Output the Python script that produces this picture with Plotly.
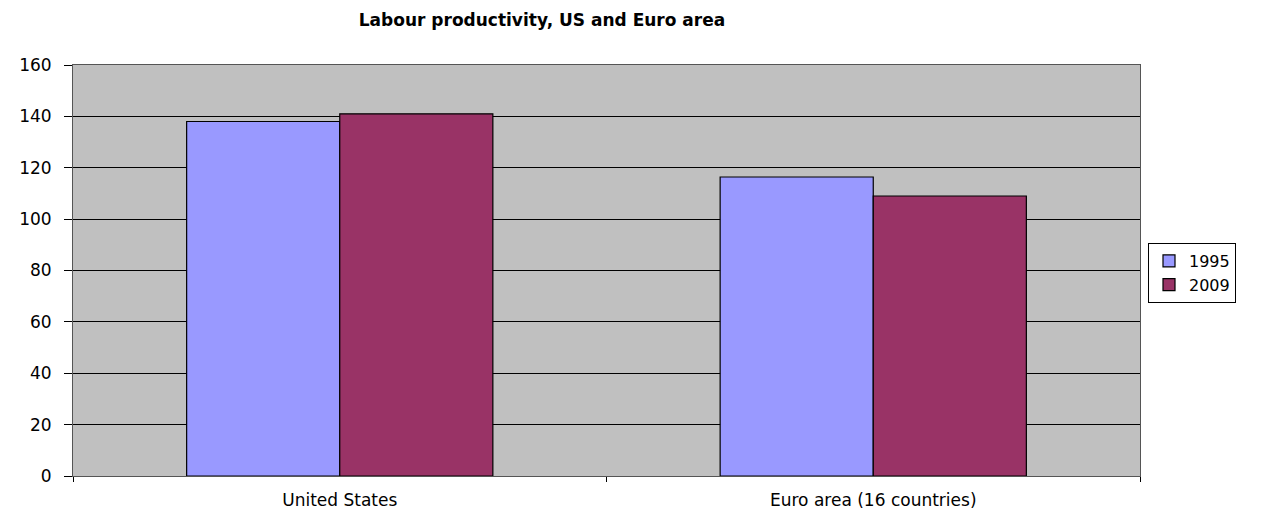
import plotly.graph_objects as go

categories = ["United States", "Euro area (16 countries)"]
series_names = ["1995", "2009"]
values_1995 = [138.0, 116.4]
values_2009 = [141.0, 109.0]
y_ticks = [0, 20, 40, 60, 80, 100, 120, 140, 160]

fig = go.Figure()
fig.add_trace(go.Bar(x=categories, y=values_1995, name=series_names[0],
                     marker=dict(color="#9999FF", line=dict(color="black", width=1.2))))
fig.add_trace(go.Bar(x=categories, y=values_2009, name=series_names[1],
                     marker=dict(color="#993366", line=dict(color="black", width=1.2))))

OFF = 8  # page body margin
W, H = 1264 - OFF, 510 - OFF
l, r, t, b = 73 - OFF, 124, 65 - OFF, 34
pw, ph = W - l - r, H - t - b
FONT = "DejaVu Sans, Verdana, Arial"
fig.update_layout(
    width=W, height=H,
    margin=dict(l=l, r=r, t=t, b=b, autoexpand=False),
    paper_bgcolor="white", plot_bgcolor="#C0C0C0",
    barmode="group", bargap=0.426, bargroupgap=0,
    font=dict(family=FONT, size=17, color="black"),
    title=dict(text="<b>Labour productivity, US and Euro area</b>",
               x=(542 - OFF) / W, xanchor="center", y=1 - (20 - OFF) / H, yanchor="middle",
               font=dict(size=17, family=FONT, color="black")),
    legend=dict(x=(1148 - OFF - l) / pw, y=(476 - 273) / ph, yanchor="middle", xanchor="left",
                bordercolor="black", borderwidth=1, bgcolor="white",
                font=dict(size=16), tracegroupgap=0, itemwidth=30),
    showlegend=True,
)
fig.update_yaxes(range=[0, 160], tickvals=y_ticks, showgrid=True, gridcolor="black",
                 gridwidth=1, ticks="outside", ticklen=8, tickcolor="black",
                 ticklabelstandoff=9,
                 showline=True, linecolor="#555555", mirror=True, zeroline=False,
                 tickfont=dict(size=17))
fig.update_xaxes(ticks="outside", tickson="boundaries", ticklen=5, tickcolor="black",
                 ticklabelstandoff=9,
                 showline=True, linecolor="#555555", mirror=True, tickfont=dict(size=17))

fig.write_html("out.html")
